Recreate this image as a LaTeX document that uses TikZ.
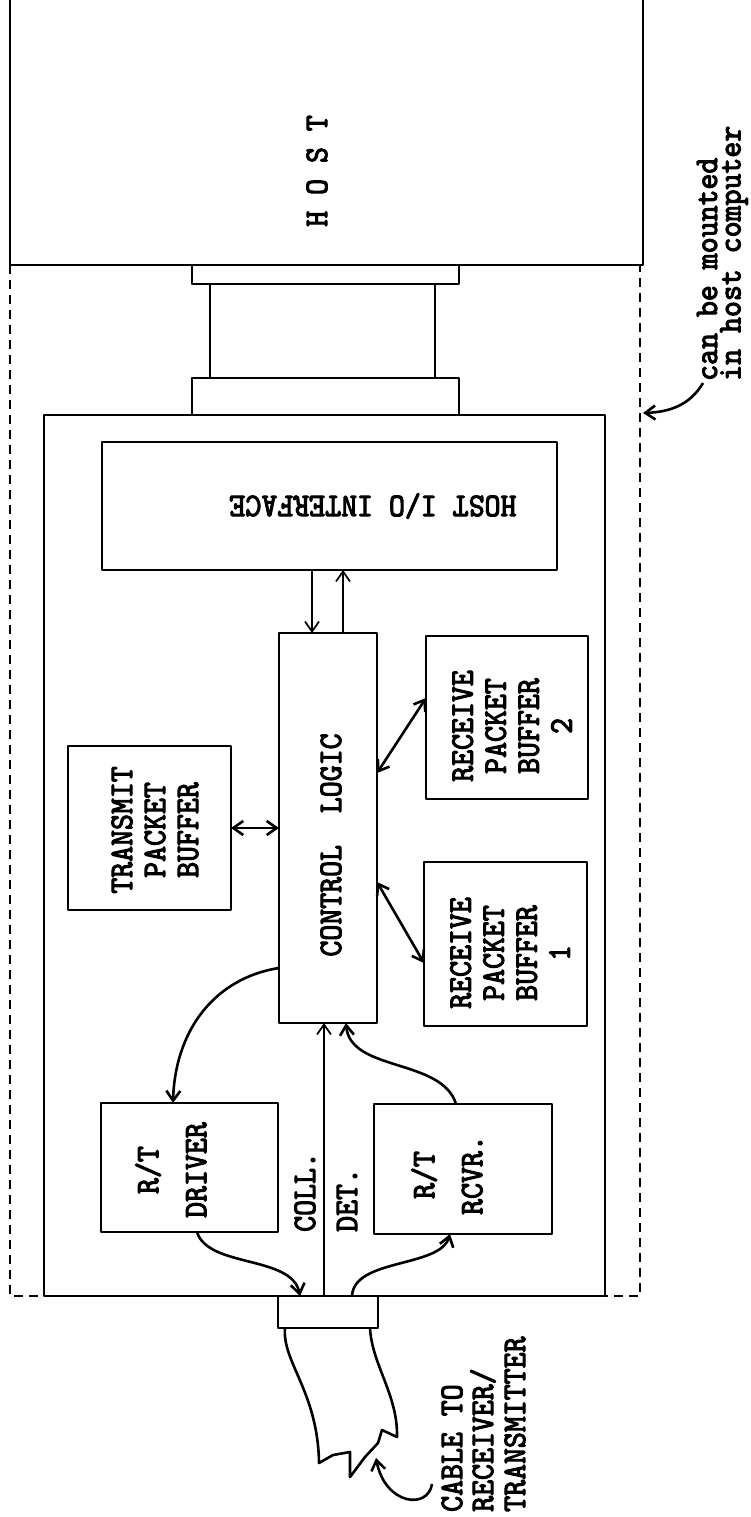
\documentclass[tikz,border=0pt]{standalone}
\usepackage{fontspec}
\newfontfamily\tw{lmmono10-regular.otf}[FakeBold=3.2,FakeStretch=0.92]
\usetikzlibrary{arrows.meta}
\begin{document}
\begin{tikzpicture}[x=1pt,y=-1pt,line join=round,
  box/.style={draw,line width=2.6pt,inner sep=0pt,outer sep=0pt},
  wire/.style={line width=2.6pt},
  fine/.style={line width=1.7pt},
  dashline/.style={line width=2.2pt,dash pattern=on 9pt off 6pt},
  arr/.style={-{Straight Barb[length=10pt,width=14pt]}},
  darr/.style={{Straight Barb[length=10pt,width=14pt]}-{Straight Barb[length=10pt,width=14pt]}},
  txt/.style={font=\tw\fontsize{33}{33}\selectfont,inner sep=0pt},
  txtwide/.style={font=\tw\fontsize{33}{48}\selectfont,inner sep=0pt},
  txtcable/.style={font=\tw\fontsize{33}{31.5}\selectfont,inner sep=0pt},
]
\useasboundingbox (0,0) rectangle (750,1517);

% host and mounting outline
\draw[dashline] (10,265) rectangle (640,1296);
\draw[wire] (10,0) -- (10,265) -- (643,265) -- (643,0);
\node[txt,rotate=90] (thost) at (317,171) {H O S T};

% connector between host and controller
\node[box,minimum width=267pt,minimum height=19pt] (fl1) at (325.5,274.5) {};
\node[box,minimum width=267pt,minimum height=37pt] (fl2) at (325.5,396.5) {};
\coordinate (cl) at (210,0);
\coordinate (cr) at (435,0);
\draw[wire] (fl1.south -| cl) -- (fl2.north -| cl);
\draw[wire] (fl1.south -| cr) -- (fl2.north -| cr);

% controller board
\node[box,minimum width=561pt,minimum height=881pt] (main) at (324.5,855.5) {};

\node[box,minimum width=455pt,minimum height=128pt] (hio) at (329.5,506) {};
\node[txt,rotate=180] (thio) at (373,506) {HOST I/O INTERFACE};

\node[box,minimum width=98pt,minimum height=390pt] (ctl) at (328,828) {};
\node[txt,rotate=90] (tctl) at (331,845) {CONTROL~~LOGIC};

\node[box,minimum width=163pt,minimum height=164pt] (tpb) at (149.5,828) {};
\node[txt,rotate=90,align=center] (ttpb) at (155,830) {TRANSMIT\\PACKET\\BUFFER};

\node[box,minimum width=162pt,minimum height=163pt] (rb2) at (507,717.5) {};
\node[txt,rotate=90,align=center] (trb2) at (512,726) {RECEIVE\\PACKET\\BUFFER\\2};

\node[box,minimum width=163pt,minimum height=164pt] (rb1) at (505.5,944) {};
\node[txt,rotate=90,align=center] (trb1) at (510,953) {RECEIVE\\PACKET\\BUFFER\\1};

\node[box,minimum width=177pt,minimum height=129pt] (drv) at (189.5,1167.5) {};
\node[txtwide,rotate=90,align=center] (tdrv) at (171,1170) {R/T\\DRIVER};

\node[box,minimum width=178pt,minimum height=130pt] (rcv) at (463,1169) {};
\node[txtwide,rotate=90,align=center] (trcv) at (447,1175) {R/T\\RCVR.};

\node[box,minimum width=100pt,minimum height=32pt] (con) at (328,1312) {};

\node[txt,rotate=90,anchor=west] (tcoll) at (305,1232) {COLL.};
\node[txt,rotate=90,anchor=west] (tdet) at (347,1232) {DET.};

% host I/O <-> control logic
\coordinate (dnx) at (312,0);
\coordinate (upx) at (343,0);
\draw[fine,arr] (hio.south -| dnx) -- (ctl.north -| dnx);
\draw[fine,arr] (ctl.north -| upx) -- (hio.south -| upx);

% buffers
\draw[wire,darr] (tpb.east) -- (tpb.east -| ctl.west);
\draw[wire,darr] ([yshift=55pt]ctl.east) -- ([yshift=19.5pt]rb2.west);
\draw[wire,darr] ([yshift=-54pt]ctl.east) -- ([yshift=-19pt]rb1.west);

% driver / receiver paths
\draw[wire,arr] ([yshift=-140pt]ctl.west) .. controls (215,978) and (175,1030) .. ([xshift=-16.5pt]drv.north);
\draw[wire,arr] ([xshift=7.5pt]drv.south) .. controls (208,1268) and (292,1255) .. ([xshift=-28pt]con.north);
\draw[wire,arr] ([xshift=24pt]con.north) .. controls (354,1258) and (440,1268) .. ([xshift=-13pt]rcv.south);
\draw[wire,arr] ([xshift=-7pt]rcv.north) .. controls (442,1058) and (350,1072) .. ([xshift=18pt]ctl.south);
\coordinate (colx) at (324,0);
\draw[fine,arr] (con.north -| colx) -- (ctl.south -| colx);

% cable
\draw[wire] ([xshift=-43pt]con.south) .. controls (282,1362) and (318,1392) .. (319,1463)
  -- (333,1455) -- (350,1452) -- (350,1477) -- (365,1457) -- (378,1443) -- (382,1430) -- (397,1437)
  .. controls (398,1395) and (372,1365) .. ([xshift=42pt]con.south);

\node[txtcable,rotate=90,anchor=west] (tc1) at (452,1512) {CABLE TO};
\node[txtcable,rotate=90,anchor=west] (tc2) at (483,1512) {RECEIVER/};
\node[txtcable,rotate=90,anchor=west] (tc3) at (515,1512) {TRANSMITTER};
\coordinate (cabtail) at (432,1484);
\coordinate (cabhead) at (376,1458);
\draw[wire,arr] (cabtail) .. controls (428,1510) and (385,1505) .. (cabhead);

% note
\node[txt,rotate=90,anchor=west] (tn1) at (707,381) {can be mounted};
\node[txt,rotate=90,anchor=west] (tn2) at (734,381) {in host computer};
\coordinate (notetail) at (703,383);
\coordinate (notehead) at (643,413);
\draw[wire,arr] (notetail) .. controls (690,405) and (670,412) .. (notehead);
\end{tikzpicture}
\end{document}
